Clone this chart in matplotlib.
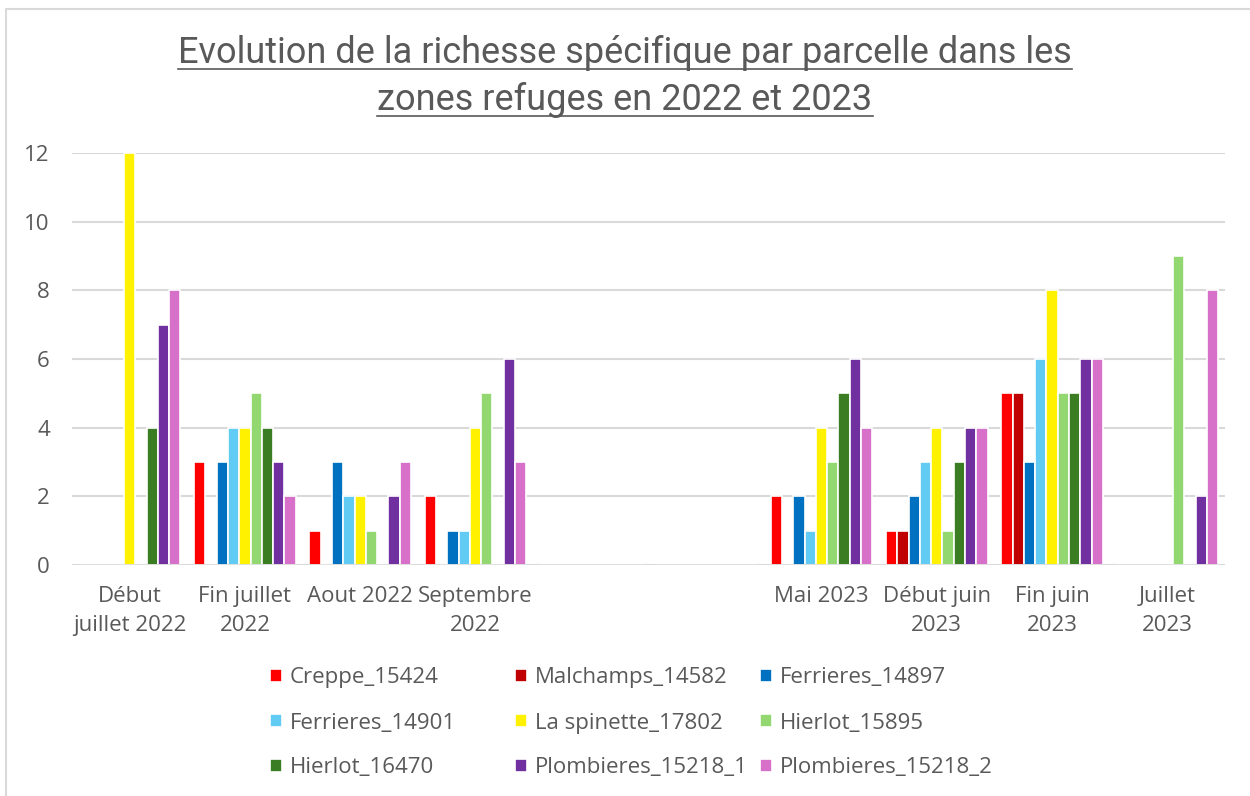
import matplotlib.pyplot as plt
from matplotlib.lines import Line2D
import numpy as np

categories = ["Début\njuillet 2022", "Fin juillet\n2022", "Aout 2022", "Septembre\n2022",
              "", "", "Mai 2023", "Début juin\n2023", "Fin juin\n2023", "Juillet\n2023"]

series_names = ["Creppe_15424", "Malchamps_14582", "Ferrieres_14897",
                "Ferrieres_14901", "La spinette_17802", "Hierlot_15895",
                "Hierlot_16470", "Plombieres_15218_1", "Plombieres_15218_2"]

creppe_15424 = [0, 3, 1, 2, 0, 0, 2, 1, 5, 0]
malchamps_14582 = [0, 0, 0, 0, 0, 0, 0, 1, 5, 0]
ferrieres_14897 = [0, 3, 3, 1, 0, 0, 2, 2, 3, 0]
ferrieres_14901 = [0, 4, 2, 1, 0, 0, 1, 3, 6, 0]
la_spinette_17802 = [12, 4, 2, 4, 0, 0, 4, 4, 8, 0]
hierlot_15895 = [0, 5, 1, 5, 0, 0, 3, 1, 5, 9]
hierlot_16470 = [4, 4, 0, 0, 0, 0, 5, 3, 5, 0]
plombieres_15218_1 = [7, 3, 2, 6, 0, 0, 6, 4, 6, 2]
plombieres_15218_2 = [8, 2, 3, 3, 0, 0, 4, 4, 6, 8]

series_values = [creppe_15424, malchamps_14582, ferrieres_14897, ferrieres_14901,
                 la_spinette_17802, hierlot_15895, hierlot_16470,
                 plombieres_15218_1, plombieres_15218_2]

colors = ["#FF0000", "#C00000", "#0070C0", "#61CBF3", "#FFF100",
          "#92D76F", "#3B7D23", "#7030A0", "#D670C9"]

text_color = "#595959"
plt.rcParams['font.family'] = ["Open Sans", "DejaVu Sans"]

W, H = 1250, 796
fig = plt.figure(figsize=(W / 100, H / 100), dpi=100)
ax = fig.add_axes([72 / W, 1 - 565 / H, 1153 / W, 412 / H])

x = np.arange(len(categories))
pitch = 0.098
n = len(series_values)
handles = []
for i, (name, vals, c) in enumerate(zip(series_names, series_values, colors)):
    offs = (i - (n - 1) / 2) * pitch
    b = ax.bar(x + offs, vals, width=pitch, color=c, edgecolor='white',
               linewidth=1.2, label=name, zorder=3)
    handles.append(b)

ax.set_xlim(-0.5, len(categories) - 0.5)
ax.set_ylim(0, 12)
ax.set_yticks(range(0, 13, 2))
ax.set_xticks(x)
ax.set_xticklabels(categories, linespacing=1.5)
for spine in ax.spines.values():
    spine.set_visible(False)
ax.yaxis.grid(True, color='#D9D9D9', linewidth=1.5)
ax.axhline(0, color='#D9D9D9', linewidth=1.8, zorder=4)
ax.set_axisbelow(True)
ax.tick_params(axis='both', length=0, colors=text_color, labelsize=16)
ax.tick_params(axis='y', pad=16)
ax.tick_params(axis='x', pad=15)

# title, one text per line so each can be underlined
title_lines = ["Evolution de la richesse spécifique par parcelle dans les",
               "zones refuges en 2022 et 2023"]
title_y = [1 - 53 / H, 1 - 100 / H]
title_texts = []
for t, y in zip(title_lines, title_y):
    title_texts.append(fig.text(0.5, y, t, ha='center', va='center', fontsize=26,
                                color=text_color, family=["Roboto", "DejaVu Sans"]))

# legend: three columns, filled row by row
col_x = [270, 515, 760]
for j, cx in enumerate(col_x):
    idx = [j, j + 3, j + 6]
    fig.legend([handles[k] for k in idx], [series_names[k] for k in idx],
               loc='center left', bbox_to_anchor=(cx / W, 1 - 723 / H),
               frameon=False, fontsize=16, labelcolor=text_color,
               handlelength=0.55, handleheight=0.55, handletextpad=0.35,
               labelspacing=1.08, borderpad=0, borderaxespad=0)

# underline the title lines
fig.canvas.draw()
r = fig.canvas.get_renderer()
for t in title_texts:
    bb = t.get_window_extent(r)
    y = bb.y0 + 2
    fig.add_artist(Line2D([bb.x0 / W, bb.x1 / W], [y / H, y / H],
                          color=text_color, linewidth=1.2))

# chart area border
fig.add_artist(Line2D([6 / W, 6 / W, 1.0], [0, 1 - 9 / H, 1 - 9 / H],
                      color='#D9D9D9', linewidth=1.5))

fig.savefig("out.png", dpi=100)
